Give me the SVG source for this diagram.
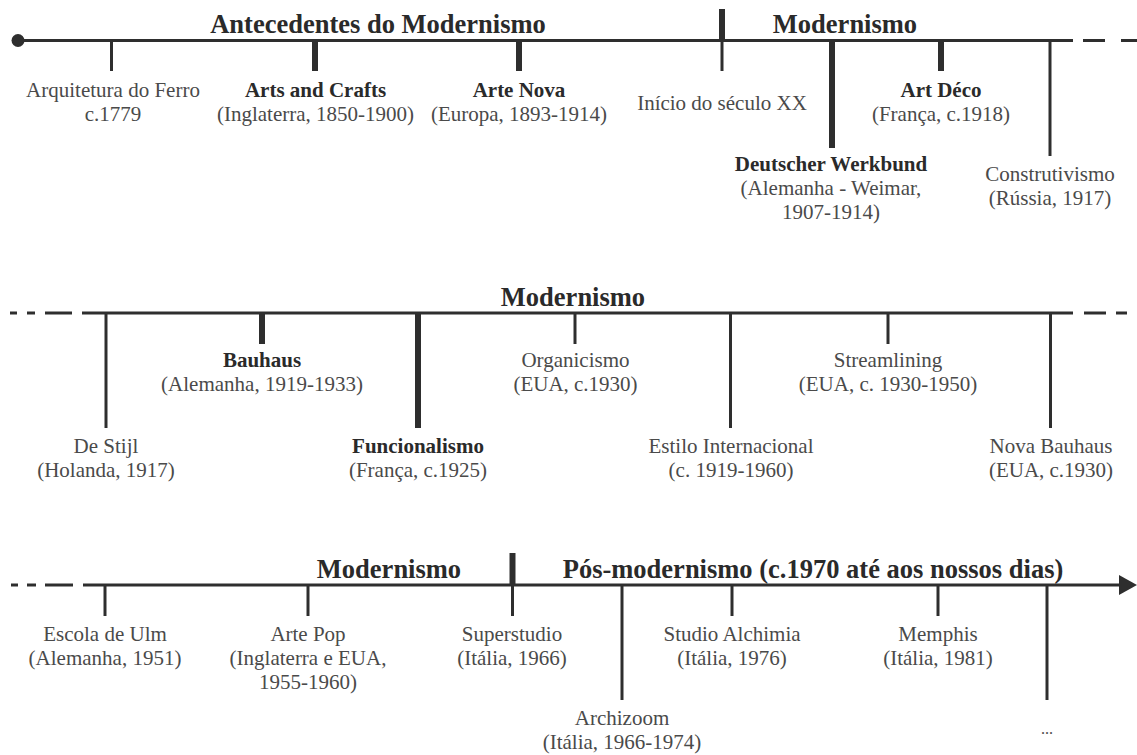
<svg xmlns="http://www.w3.org/2000/svg" width="1137" height="755" viewBox="0 0 1137 755">
<style>
 text { font-family: "Liberation Serif", "Times New Roman", serif; text-anchor: middle; }
 .r { font-size: 21px; fill: #4a4a4a; }
 .b { font-size: 21px; font-weight: bold; fill: #2a2a2a; }
 .h { font-size: 26.5px; font-weight: bold; fill: #2a2a2a; }
 .ax { stroke: #2e2e2e; stroke-width: 3; fill: none; }
 .t { stroke: #2e2e2e; stroke-width: 3; }
 .T { stroke: #2e2e2e; stroke-width: 6; }
</style>
<rect width="1137" height="755" fill="#ffffff"/>
<g id="connectors">
 <circle cx="18" cy="40.5" r="6.5" fill="#2e2e2e"/>
 <line class="ax" x1="18" y1="40.5" x2="1073" y2="40.5"/>
 <line class="ax" x1="1083" y1="40.5" x2="1105" y2="40.5"/>
 <line class="ax" x1="1121" y1="40.5" x2="1137" y2="40.5"/>
 <line class="t" x1="111.5" y1="40" x2="111.5" y2="71"/>
 <line class="T" x1="315" y1="40" x2="315" y2="71"/>
 <line class="T" x1="519" y1="40" x2="519" y2="71"/>
 <line class="T" x1="722" y1="9" x2="722" y2="41"/>
 <line class="t" x1="722" y1="40" x2="722" y2="71"/>
 <line class="T" x1="832" y1="40" x2="832" y2="148"/>
 <line class="T" x1="941" y1="40" x2="941" y2="71"/>
 <line class="t" x1="1050" y1="40" x2="1050" y2="156"/>

 <line class="ax" x1="10" y1="313" x2="17" y2="313"/>
 <line class="ax" x1="27" y1="313" x2="35" y2="313"/>
 <line class="ax" x1="45" y1="313" x2="72" y2="313"/>
 <line class="ax" x1="82" y1="313" x2="1073" y2="313"/>
 <line class="ax" x1="1084" y1="313" x2="1106" y2="313"/>
 <line class="ax" x1="1116" y1="313" x2="1127" y2="313"/>
 <line class="t" x1="106" y1="312" x2="106" y2="428"/>
 <line class="T" x1="262" y1="312" x2="262" y2="344"/>
 <line class="T" x1="418" y1="312" x2="418" y2="428"/>
 <line class="t" x1="575" y1="312" x2="575" y2="344"/>
 <line class="t" x1="730.5" y1="312" x2="730.5" y2="428"/>
 <line class="t" x1="888" y1="312" x2="888" y2="344"/>
 <line class="t" x1="1050.5" y1="312" x2="1050.5" y2="428"/>

 <line class="ax" x1="11" y1="585" x2="18" y2="585"/>
 <line class="ax" x1="27" y1="585" x2="36" y2="585"/>
 <line class="ax" x1="45" y1="585" x2="73" y2="585"/>
 <line class="ax" x1="83" y1="585" x2="1122" y2="585"/>
 <polygon points="1119,575 1137,585 1119,595" fill="#2e2e2e"/>
 <line class="t" x1="105" y1="584" x2="105" y2="616"/>
 <line class="t" x1="308" y1="584" x2="308" y2="616"/>
 <line class="T" x1="512.5" y1="553" x2="512.5" y2="586"/>
 <line class="t" x1="512.5" y1="584" x2="512.5" y2="616"/>
 <line class="t" x1="622" y1="584" x2="622" y2="700"/>
 <line class="t" x1="732" y1="584" x2="732" y2="616"/>
 <line class="t" x1="938" y1="584" x2="938" y2="616"/>
 <line class="t" x1="1047" y1="584" x2="1047" y2="700"/>
</g>

<g id="header-antecedentes"><text class="h" x="378" y="33">Antecedentes do Modernismo</text></g>
<g id="header-modernismo-1"><text class="h" x="845" y="33">Modernismo</text></g>
<g id="header-modernismo-2"><text class="h" x="573" y="305.5">Modernismo</text></g>
<g id="header-modernismo-3"><text class="h" x="389" y="577.5">Modernismo</text></g>
<g id="header-pos-modernismo"><text class="h" x="813" y="577.5">Pós-modernismo (c.1970 até aos nossos dias)</text></g>

<g id="arquitetura-ferro"><text class="r" x="113" y="97">Arquitetura do Ferro</text><text class="r" x="113" y="120.5">c.1779</text></g>
<g id="arts-and-crafts"><text class="b" x="315.5" y="97">Arts and Crafts</text><text class="r" x="315.5" y="120.5">(Inglaterra, 1850-1900)</text></g>
<g id="arte-nova"><text class="b" x="519" y="97">Arte Nova</text><text class="r" x="519" y="120.5">(Europa, 1893-1914)</text></g>
<g id="inicio-seculo"><text class="r" x="722" y="109.5">Início do século XX</text></g>
<g id="deutscher-werkbund"><text class="b" x="831" y="171">Deutscher Werkbund</text><text class="r" x="831" y="195">(Alemanha - Weimar,</text><text class="r" x="831" y="219">1907-1914)</text></g>
<g id="art-deco"><text class="b" x="941" y="96.5">Art Déco</text><text class="r" x="941" y="120.5">(França, c.1918)</text></g>
<g id="construtivismo"><text class="r" x="1050" y="181">Construtivismo</text><text class="r" x="1050" y="205">(Rússia, 1917)</text></g>

<g id="de-stijl"><text class="r" x="106" y="453">De Stijl</text><text class="r" x="106" y="477">(Holanda, 1917)</text></g>
<g id="bauhaus"><text class="b" x="262" y="367">Bauhaus</text><text class="r" x="262" y="391">(Alemanha, 1919-1933)</text></g>
<g id="funcionalismo"><text class="b" x="418" y="453">Funcionalismo</text><text class="r" x="418" y="477">(França, c.1925)</text></g>
<g id="organicismo"><text class="r" x="575.5" y="367">Organicismo</text><text class="r" x="575.5" y="391">(EUA, c.1930)</text></g>
<g id="estilo-internacional"><text class="r" x="731" y="453">Estilo Internacional</text><text class="r" x="731" y="477">(c. 1919-1960)</text></g>
<g id="streamlining"><text class="r" x="888" y="367">Streamlining</text><text class="r" x="888" y="391">(EUA, c. 1930-1950)</text></g>
<g id="nova-bauhaus"><text class="r" x="1051" y="453">Nova Bauhaus</text><text class="r" x="1051" y="477">(EUA, c.1930)</text></g>

<g id="escola-ulm"><text class="r" x="105" y="641">Escola de Ulm</text><text class="r" x="105" y="665">(Alemanha, 1951)</text></g>
<g id="arte-pop"><text class="r" x="308" y="641">Arte Pop</text><text class="r" x="308" y="665">(Inglaterra e EUA,</text><text class="r" x="308" y="689">1955-1960)</text></g>
<g id="superstudio"><text class="r" x="512" y="641">Superstudio</text><text class="r" x="512" y="665">(Itália, 1966)</text></g>
<g id="archizoom"><text class="r" x="622" y="725">Archizoom</text><text class="r" x="622" y="749">(Itália, 1966-1974)</text></g>
<g id="studio-alchimia"><text class="r" x="732" y="641">Studio Alchimia</text><text class="r" x="732" y="665">(Itália, 1976)</text></g>
<g id="memphis"><text class="r" x="938" y="641">Memphis</text><text class="r" x="938" y="665">(Itália, 1981)</text></g>
<g id="etc"><text class="r" x="1047" y="734" style="font-size:16px">...</text></g>
</svg>
